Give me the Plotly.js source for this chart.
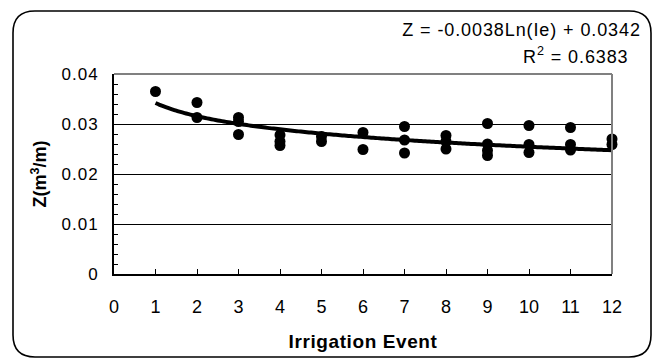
<!DOCTYPE html>
<html>
<head>
<meta charset="utf-8">
<script src="https://cdn.plot.ly/plotly-3.0.1.min.js"></script>
<style>
html,body{margin:0;padding:0;background:#fff;}
#chart{width:654px;height:360px;}
#chart .ytick text{letter-spacing:1px;}
#chart .annotation-text{letter-spacing:0.9px;}
#chart .g-xtitle text{letter-spacing:0.6px;}
</style>
</head>
<body>
<div id="chart"></div>
<script>
// Irrigation event number for each measured point
const irrigationEvent = [1, 2, 2, 3, 3, 3, 4, 4, 4, 5, 5, 6, 6, 7, 7, 7, 8, 8, 8, 9, 9, 9, 9, 10, 10, 10, 11, 11, 11, 12, 12];
// Measured Z (m3/m)
const zValues = [0.0365, 0.0343, 0.0313, 0.0313, 0.0305, 0.0279, 0.0278, 0.0265, 0.0257, 0.0275, 0.0265,
  0.0283, 0.0249, 0.0295, 0.0268, 0.0242, 0.0277, 0.0265, 0.0250, 0.0301, 0.0260, 0.0247, 0.0237,
  0.0297, 0.0259, 0.0243, 0.0293, 0.0259, 0.0248, 0.0270, 0.0259];
// Logarithmic trendline coefficients shown on the chart: Z = a*Ln(Ie) + b
const trendCoef = [-0.0038, 0.0342];
const trendLabel = ["Z = -0.0038Ln(Ie) + 0.0342", "R<sup>2</sup> = 0.6383"];
const xTicks = [0, 1, 2, 3, 4, 5, 6, 7, 8, 9, 10, 11, 12];
const yTicks = [0, 0.01, 0.02, 0.03, 0.04];
const yTickText = ['0', '0.01', '0.02', '0.03', '0.04'];

const trendX = [];
const trendY = [];
for (let i = 0; i <= 110; i++) {
  const x = 1 + i * 0.1;
  trendX.push(x);
  trendY.push(trendCoef[0] * Math.log(x) + trendCoef[1]);
}

const W = 654, H = 360;
const L = 114, R = 612, T = 74, B = 274;
const px = v => (v - L) / (R - L);
const py = v => (B - v) / (B - T);

function roundRect(x0, y0, x1, y1, r) {
  const f = (x, y) => px(x).toFixed(5) + ',' + py(y).toFixed(5);
  return 'M' + f(x0 + r, y0) + ' L' + f(x1 - r, y0) +
    ' Q' + f(x1, y0) + ' ' + f(x1, y0 + r) +
    ' L' + f(x1, y1 - r) +
    ' Q' + f(x1, y1) + ' ' + f(x1 - r, y1) +
    ' L' + f(x0 + r, y1) +
    ' Q' + f(x0, y1) + ' ' + f(x0, y1 - r) +
    ' L' + f(x0, y0 + r) +
    ' Q' + f(x0, y0) + ' ' + f(x0 + r, y0) + ' Z';
}

const font = 'Liberation Sans, Arial, sans-serif';

const data = [
  {
    x: trendX, y: trendY, type: 'scatter', mode: 'lines',
    line: {color: '#000', width: 4, shape: 'spline'}, showlegend: false, hoverinfo: 'skip',
    cliponaxis: false
  },
  {
    x: irrigationEvent, y: zValues, type: 'scatter', mode: 'markers',
    marker: {color: '#000', size: 11}, showlegend: false, hoverinfo: 'x+y',
    cliponaxis: false
  }
];

const layout = {
  width: W, height: H,
  margin: {l: L, r: W - R, t: T, b: H - B, pad: 0},
  paper_bgcolor: '#fff', plot_bgcolor: '#fff',
  font: {family: font, color: '#000', size: 16},
  xaxis: {
    range: [0, 12], tickvals: xTicks, ticktext: xTicks.map(String),
    ticks: 'inside', ticklen: 5, tickwidth: 1, tickcolor: '#000',
    showline: true, linecolor: '#000', linewidth: 2, showgrid: false, zeroline: false,
    tickfont: {size: 18, family: font}, ticklabelstandoff: 15,
    title: {text: '<b>Irrigation Event</b>', font: {size: 19, family: font}, standoff: 19}
  },
  yaxis: {
    range: [0, 0.04], tickvals: yTicks, ticktext: yTickText,
    ticks: 'inside', ticklen: 5, tickwidth: 1, tickcolor: '#000',
    minor: {dtick: 0.002, ticks: 'inside', ticklen: 4, tickcolor: '#000', showgrid: false},
    showline: true, linecolor: '#000', linewidth: 2,
    showgrid: true, gridcolor: '#000', gridwidth: 1, zeroline: false,
    tickfont: {size: 17, family: font}, ticklabelstandoff: 10,
    title: {text: '<b>Z(m<sup>3</sup>/m)</b>', font: {size: 18, family: font}, standoff: 14}
  },
  shapes: [
    {type: 'line', xref: 'paper', yref: 'paper', x0: 0, x1: 1, y0: 1, y1: 1, line: {color: '#808080', width: 2}},
    {type: 'line', xref: 'paper', yref: 'paper', x0: 1, x1: 1, y0: 0, y1: 1, line: {color: '#808080', width: 2}},
    {type: 'path', xref: 'paper', yref: 'paper', path: roundRect(13, 11, 651, 357, 22), line: {color: '#000', width: 1.6}, layer: 'below'}
  ],
  annotations: [
    {xref: 'paper', yref: 'paper', x: px(521), y: py(30), xanchor: 'center', yanchor: 'middle',
     text: trendLabel[0], showarrow: false, font: {size: 18, family: font}},
    {xref: 'paper', yref: 'paper', x: px(576), y: py(56), xanchor: 'center', yanchor: 'middle',
     text: trendLabel[1], showarrow: false, font: {size: 18, family: font}}
  ]
};

Plotly.newPlot('chart', data, layout, {displayModeBar: false, staticPlot: true});
</script>
</body>
</html>
